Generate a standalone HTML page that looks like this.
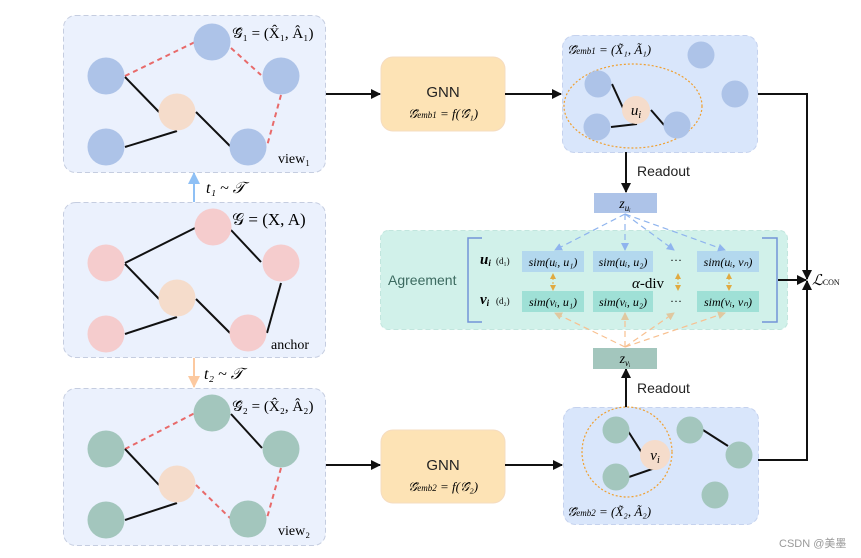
<!DOCTYPE html>
<html><head><meta charset="utf-8"><style>
body{margin:0;background:#fff;}
svg{display:block;font-family:"Liberation Serif",serif;}
.s{font-family:"Liberation Sans",sans-serif;}
</style></head><body>
<svg width="861" height="558" viewBox="0 0 861 558" xmlns="http://www.w3.org/2000/svg">
<defs>
<marker id="ak" markerWidth="10" markerHeight="10" refX="9" refY="5" orient="auto" markerUnits="userSpaceOnUse"><path d="M0,0 L10,5 L0,10 z" fill="#111"/></marker>
<marker id="ab" markerWidth="8" markerHeight="8" refX="7" refY="4" orient="auto" markerUnits="userSpaceOnUse"><path d="M0,0 L8,4 L0,8 z" fill="#8fb4ee"/></marker>
<marker id="ao" markerWidth="8" markerHeight="8" refX="7" refY="4" orient="auto" markerUnits="userSpaceOnUse"><path d="M0,0 L8,4 L0,8 z" fill="#e0c8a0"/></marker>
<marker id="ay" markerWidth="6" markerHeight="6" refX="5" refY="3" orient="auto-start-reverse" markerUnits="userSpaceOnUse"><path d="M0,0 L6,3 L0,6 z" fill="#e0aa40"/></marker>
<marker id="tb" markerWidth="12" markerHeight="12" refX="11" refY="6" orient="auto" markerUnits="userSpaceOnUse"><path d="M0,0 L12,6 L0,12 z" fill="#8fc0f5"/></marker>
<marker id="to" markerWidth="12" markerHeight="12" refX="11" refY="6" orient="auto" markerUnits="userSpaceOnUse"><path d="M0,0 L12,6 L0,12 z" fill="#fcc9a0"/></marker>
</defs>

<rect x="63.5" y="15.5" width="262" height="157" rx="12" fill="#ebf1fd" stroke="#c5cde0" stroke-dasharray="5,3"/>
<rect x="63.5" y="202.5" width="262" height="155" rx="12" fill="#ebf1fd" stroke="#c5cde0" stroke-dasharray="5,3"/>
<rect x="63.5" y="388.5" width="262" height="157" rx="12" fill="#ebf1fd" stroke="#c5cde0" stroke-dasharray="5,3"/>

<g stroke-width="2">
<line x1="125" y1="76" x2="195" y2="42" stroke="#e86a6a" stroke-dasharray="5,4"/>
<line x1="231" y1="48" x2="261" y2="75" stroke="#e86a6a" stroke-dasharray="5,4"/>
<line x1="281" y1="95" x2="267" y2="146" stroke="#e86a6a" stroke-dasharray="5,4"/>
<line x1="125" y1="77" x2="159" y2="112" stroke="#111"/>
<line x1="196" y1="112" x2="230" y2="146" stroke="#111"/>
<line x1="125" y1="147" x2="177" y2="131" stroke="#111"/>
</g>
<g fill="#adc3e8"><circle cx="106" cy="76" r="18.5"/><circle cx="212" cy="42" r="18.5"/><circle cx="281" cy="76" r="18.5"/><circle cx="106" cy="147" r="18.5"/><circle cx="248" cy="147" r="18.5"/></g>
<circle cx="177" cy="112" r="18.5" fill="#f5dccb"/>
<text x="232" y="38" font-size="15">𝒢̂₁ = (X̂₁, Â₁)</text>
<text x="278" y="163" font-size="14">view₁</text>

<g stroke-width="2" stroke="#111">
<line x1="125" y1="263" x2="195" y2="228"/>
<line x1="231" y1="230" x2="261" y2="262"/>
<line x1="281" y1="283" x2="267" y2="333"/>
<line x1="125" y1="264" x2="159" y2="299"/>
<line x1="196" y1="299" x2="230" y2="333"/>
<line x1="125" y1="334" x2="177" y2="317"/>
</g>
<g fill="#f5cccd"><circle cx="106" cy="263" r="18.5"/><circle cx="213" cy="227" r="18.5"/><circle cx="281" cy="263" r="18.5"/><circle cx="106" cy="334" r="18.5"/><circle cx="248" cy="333" r="18.5"/></g>
<circle cx="177" cy="298" r="18.5" fill="#f5dccb"/>
<text x="232" y="225" font-size="17">𝒢 = (X, A)</text>
<text x="271" y="349" font-size="14">anchor</text>

<g stroke-width="2">
<line x1="125" y1="449" x2="195" y2="413" stroke="#e86a6a" stroke-dasharray="5,4"/>
<line x1="231" y1="414" x2="262" y2="448" stroke="#111"/>
<line x1="281" y1="468" x2="267" y2="518" stroke="#e86a6a" stroke-dasharray="5,4"/>
<line x1="125" y1="449" x2="159" y2="485" stroke="#111"/>
<line x1="196" y1="485" x2="230" y2="518" stroke="#e86a6a" stroke-dasharray="5,4"/>
<line x1="125" y1="520" x2="177" y2="503" stroke="#111"/>
</g>
<g fill="#a3c6bd"><circle cx="106" cy="449" r="18.5"/><circle cx="212" cy="413" r="18.5"/><circle cx="281" cy="449" r="18.5"/><circle cx="106" cy="520" r="18.5"/><circle cx="248" cy="519" r="18.5"/></g>
<circle cx="177" cy="484" r="18.5" fill="#f5dccb"/>
<text x="232" y="411" font-size="15">𝒢̂₂ = (X̂₂, Â₂)</text>
<text x="278" y="535" font-size="14">view₂</text>

<line x1="194" y1="202" x2="194" y2="173" stroke="#8fc0f5" stroke-width="2" marker-end="url(#tb)"/>
<text x="206" y="193" font-size="16" font-style="italic">t₁ ~ 𝒯</text>
<line x1="194" y1="358" x2="194" y2="387" stroke="#fcc9a0" stroke-width="2" marker-end="url(#to)"/>
<text x="204" y="379" font-size="16" font-style="italic">t₂ ~ 𝒯</text>

<rect x="381" y="57" width="124" height="74" rx="12" fill="#fde3b5" stroke="#f5dcc0"/>
<text x="443" y="97" font-size="15" text-anchor="middle" class="s" fill="#222">GNN</text>
<text x="443" y="118" font-size="13" text-anchor="middle" font-style="italic">𝒢̃<tspan font-size="9">emb1</tspan> = f(𝒢̂₁)</text>
<rect x="381" y="430" width="124" height="73" rx="12" fill="#fde3b5" stroke="#f5dcc0"/>
<text x="443" y="470" font-size="15" text-anchor="middle" class="s" fill="#222">GNN</text>
<text x="443" y="491" font-size="13" text-anchor="middle" font-style="italic">𝒢̃<tspan font-size="9">emb2</tspan> = f(𝒢̂₂)</text>

<g stroke="#111" stroke-width="2" fill="none">
<line x1="326" y1="94" x2="380" y2="94" marker-end="url(#ak)"/>
<line x1="505" y1="94" x2="561" y2="94" marker-end="url(#ak)"/>
<line x1="326" y1="465" x2="380" y2="465" marker-end="url(#ak)"/>
<line x1="505" y1="465" x2="562" y2="465" marker-end="url(#ak)"/>
</g>

<rect x="562.5" y="35.5" width="195" height="117" rx="12" fill="#d9e6fb" stroke="#c5d2ee" stroke-dasharray="5,3"/>
<ellipse cx="633" cy="106" rx="69" ry="42" fill="none" stroke="#f0a030" stroke-width="1.2" stroke-dasharray="2,2"/>
<g stroke="#111" stroke-width="2"><line x1="612" y1="84" x2="623" y2="108"/><line x1="611" y1="127" x2="637" y2="124"/><line x1="651" y1="110" x2="664" y2="125"/></g>
<g fill="#adc3e8"><circle cx="701" cy="55" r="13.5"/><circle cx="735" cy="94" r="13.5"/><circle cx="598" cy="84" r="13.5"/><circle cx="597" cy="127" r="13.5"/><circle cx="677" cy="125" r="13.5"/></g>
<circle cx="636" cy="110" r="14" fill="#f5dccb"/>
<text x="636" y="115" font-size="15" font-style="italic" text-anchor="middle">u<tspan font-size="10" dy="3">i</tspan></text>
<text x="567" y="54" font-size="13" font-style="italic">𝒢̃<tspan font-size="9">emb1</tspan> = (X̃₁, Ã₁)</text>

<rect x="563.5" y="407.5" width="195" height="117" rx="12" fill="#d9e6fb" stroke="#c5d2ee" stroke-dasharray="5,3"/>
<circle cx="627" cy="452" r="45" fill="none" stroke="#f0a030" stroke-width="1.2" stroke-dasharray="2,2"/>
<g stroke="#111" stroke-width="2"><line x1="628" y1="431" x2="642" y2="453"/><line x1="629" y1="477" x2="655" y2="468"/><line x1="703" y1="430" x2="728" y2="446"/></g>
<g fill="#a3c6bd"><circle cx="616" cy="430" r="13.5"/><circle cx="616" cy="477" r="13.5"/><circle cx="690" cy="430" r="13.5"/><circle cx="739" cy="455" r="13.5"/><circle cx="715" cy="495" r="13.5"/></g>
<circle cx="655" cy="455" r="15" fill="#f5dccb"/>
<text x="655" y="460" font-size="15" font-style="italic" text-anchor="middle">v<tspan font-size="10" dy="3">i</tspan></text>
<text x="567" y="516" font-size="13" font-style="italic">𝒢̃<tspan font-size="9">emb2</tspan> = (X̃₂, Ã₂)</text>

<line x1="626" y1="152" x2="626" y2="192" stroke="#111" stroke-width="2" marker-end="url(#ak)"/>
<text x="637" y="176" font-size="14" class="s" fill="#222">Readout</text>
<line x1="626" y1="407" x2="626" y2="369" stroke="#111" stroke-width="2" marker-end="url(#ak)"/>
<text x="637" y="393" font-size="14" class="s" fill="#222">Readout</text>
<rect x="594" y="193" width="63" height="20" fill="#adc3e8"/>
<text x="625" y="208" font-size="14" font-style="italic" text-anchor="middle">z<tspan font-size="9" dy="3">uᵢ</tspan></text>
<rect x="593" y="348" width="64" height="21" fill="#a3c6bd"/>
<text x="625" y="363" font-size="14" font-style="italic" text-anchor="middle">z<tspan font-size="9" dy="3">vᵢ</tspan></text>

<rect x="380.5" y="230.5" width="407" height="99" rx="8" fill="#d1f1ea" stroke="#c2e6de" stroke-dasharray="5,3"/>
<text x="388" y="285" font-size="14" class="s" fill="#3c6a60">Agreement</text>
<path d="M482,238 H468 V322 H482" fill="none" stroke="#7394d8" stroke-width="1.5"/>
<path d="M762,238 H777 V322 H762" fill="none" stroke="#7394d8" stroke-width="1.5"/>
<text x="480" y="264" font-size="15" font-style="italic" font-weight="bold">u<tspan font-size="9" dy="2">i</tspan></text>
<text x="496" y="264" font-size="9">(d₁)</text>
<text x="480" y="304" font-size="15" font-style="italic" font-weight="bold">v<tspan font-size="9" dy="2">i</tspan></text>
<text x="496" y="304" font-size="9">(d₂)</text>
<g fill="#b3d8ee"><rect x="522" y="251" width="62" height="21"/><rect x="593" y="251" width="60" height="21"/><rect x="697" y="251" width="62" height="21"/></g>
<g fill="#9fe0d6"><rect x="522" y="291" width="62" height="21"/><rect x="593" y="291" width="60" height="21"/><rect x="697" y="291" width="62" height="21"/></g>
<g font-size="12" font-style="italic" text-anchor="middle">
<text x="553" y="266">sim(uᵢ, u₁)</text><text x="623" y="266">sim(uᵢ, u₂)</text><text x="728" y="266">sim(uᵢ, vₙ)</text>
<text x="553" y="306">sim(vᵢ, u₁)</text><text x="623" y="306">sim(vᵢ, u₂)</text><text x="728" y="306">sim(vᵢ, vₙ)</text>
</g>
<text x="676" y="264" font-size="12" text-anchor="middle">···</text>
<text x="676" y="305" font-size="12" text-anchor="middle">···</text>
<text x="632" y="288" font-size="15" font-style="italic">α<tspan font-style="normal">-div</tspan></text>
<g stroke="#e0aa40" stroke-width="1" stroke-dasharray="2,2">
<line x1="553" y1="274" x2="553" y2="290" marker-start="url(#ay)" marker-end="url(#ay)"/>
<line x1="678" y1="274" x2="678" y2="290" marker-start="url(#ay)" marker-end="url(#ay)"/>
<line x1="729" y1="274" x2="729" y2="290" marker-start="url(#ay)" marker-end="url(#ay)"/>
</g>
<g stroke="#8fb4ee" stroke-width="1.2" stroke-dasharray="6,4">
<line x1="625" y1="214" x2="555" y2="250" marker-end="url(#ab)"/>
<line x1="625" y1="214" x2="625" y2="250" marker-end="url(#ab)"/>
<line x1="625" y1="214" x2="674" y2="250" marker-end="url(#ab)"/>
<line x1="625" y1="214" x2="725" y2="250" marker-end="url(#ab)"/>
</g>
<g stroke="#f8c090" stroke-width="1.2" stroke-dasharray="6,4">
<line x1="625" y1="347" x2="555" y2="313" marker-end="url(#ao)"/>
<line x1="625" y1="347" x2="625" y2="313" marker-end="url(#ao)"/>
<line x1="625" y1="347" x2="674" y2="313" marker-end="url(#ao)"/>
<line x1="625" y1="347" x2="725" y2="313" marker-end="url(#ao)"/>
</g>

<g stroke="#111" stroke-width="2" fill="none">
<polyline points="758,94 807,94 807,279" marker-end="url(#ak)"/>
<polyline points="758,460 807,460 807,281" marker-end="url(#ak)"/>
<line x1="778" y1="280" x2="806" y2="280" marker-end="url(#ak)"/>
</g>
<text x="812" y="285" font-size="15" font-style="italic">ℒ<tspan font-size="8" font-style="normal">CON</tspan></text>

<text x="779" y="547" font-size="11" fill="#999" style='font-family:"Liberation Sans","Noto Sans CJK SC",sans-serif'>CSDN @美墨</text>
</svg>
</body></html>
